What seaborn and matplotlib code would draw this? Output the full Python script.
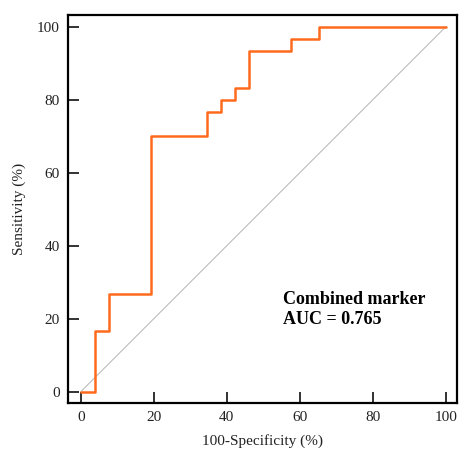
import numpy as np
import pandas as pd
import seaborn as sns
import matplotlib.pyplot as plt

# ROC points (100-specificity, sensitivity), step curve
fpr = [0, 3.85, 7.69, 19.23, 34.62, 38.46, 42.31, 46.15, 57.69, 65.38, 100]
tpr = [0, 16.67, 26.67, 70.0, 76.67, 80.0, 83.33, 93.33, 96.67, 100, 100]
ref_line = [0, 100]
tick_vals = [0, 20, 40, 60, 80, 100]
auc_label = 'Combined marker\nAUC = 0.765'

roc = pd.DataFrame({'fpr': fpr, 'tpr': tpr})
diag = pd.DataFrame({'x': ref_line, 'y': ref_line})

sns.set_style("white")
plt.rcParams['font.family'] = ['Liberation Serif', 'DejaVu Serif']

fig = plt.figure(figsize=(4.61, 4.5), dpi=100)
ax = fig.add_axes([0.1475, 0.1044, 0.8435, 0.8623])

sns.lineplot(x='x', y='y', data=diag, color='#b4b4b4', linewidth=0.7, ax=ax)
sns.lineplot(x='fpr', y='tpr', data=roc, color='#ff6a1c', linewidth=1.8,
             drawstyle='steps-post', estimator=None, sort=False, ax=ax)

ax.set_xlim(-3.5, 103)
ax.set_ylim(-3.1, 103.2)
ax.set_xticks(tick_vals)
ax.set_yticks(tick_vals)
ax.tick_params(direction='in', length=8, width=1.3, labelsize=11,
               colors='#222222', pad=6, bottom=True, left=True)
for s in ax.spines.values():
    s.set_linewidth(1.6)
    s.set_color('black')

ax.set_xlabel('100-Specificity (%)', fontsize=11, color='#222222', labelpad=7)
ax.set_ylabel('Sensitivity (%)', fontsize=11, color='#222222', labelpad=8)

ax.text(55.4, 27.6, auc_label, fontsize=13, fontweight='bold', color='black',
        va='top', ha='left', linespacing=1.25)

plt.savefig('out.png', dpi=100)
